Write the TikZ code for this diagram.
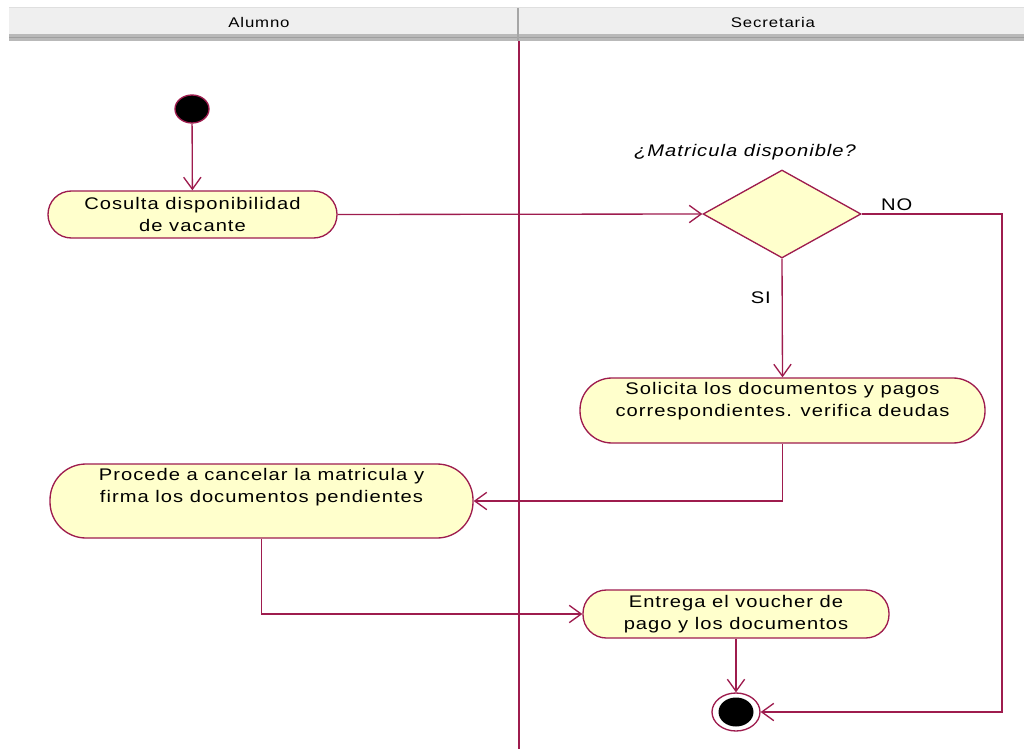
\documentclass[tikz,border=0pt]{standalone}
\usepackage{fontspec}
\usepackage{tikz}
\usetikzlibrary{shapes.geometric,arrows.meta}
\newfontfamily\rosefont{Liberation Sans}[FakeStretch=1.2,LetterSpace=6]
\definecolor{roseline}{RGB}{158,28,78}
\definecolor{rosefill}{RGB}{255,255,204}
\definecolor{lanegray}{RGB}{239,239,239}
\newcommand{\pad}[1]{\rule[-#1]{0pt}{#1}}% extra room under the text

\begin{document}
\begin{tikzpicture}[x=0.75pt,y=-0.75pt,
  act/.style={draw=roseline, fill=rosefill, line width=1pt, inner sep=0pt,
    align=center, rounded corners=#1, font=\rosefont\fontsize{12.6pt}{16.5pt}\selectfont},
  flow/.style={draw=roseline, line width=1pt, -{Straight Barb[length=9pt,width=13pt]}},
  lbl/.style={inner sep=2pt, font=\rosefont\fontsize{12.6pt}{16.5pt}\selectfont},
  lanehead/.style={inner sep=0pt, font=\rosefont\fontsize{10.5pt}{12pt}\selectfont}]
  \useasboundingbox (0,0) rectangle (1024,749);
  % swimlane heads
  \fill[lanegray] (9,8) rectangle (1024,34);
  \draw[gray!25, line width=0.75pt] (9,8) -- (1024,8);
  \fill[gray!55] (9,34) rectangle (1024,41);
  \draw[gray!75, line width=0.75pt] (9,37.5) -- (1024,37.5);
  \draw[gray!70, line width=2pt] (518,8) -- (518,41);
  \node[lanehead] (alumno) at (259,22) {Alumno};
  \node[lanehead] (secre) at (773,22) {Secretaria};
  \draw[roseline, line width=1pt] (519,41) -- (519,749);

  % states and activities
  \node[ellipse, draw=roseline, fill=black, inner sep=0pt, line width=1pt,
    minimum width=34*0.75pt, minimum height=28*0.75pt] (ini) at (192,109) {};
  \node[act=17.5pt, minimum width=289*0.75pt, minimum height=47*0.75pt]
    (act1) at (192.5,214.5) {Cosulta disponibilidad\\de vacante};
  \node[diamond, draw=roseline, fill=rosefill, line width=1pt, inner sep=0pt,
    minimum width=158*0.75pt, minimum height=88*0.75pt] (dec) at (782,214) {};
  \node[lbl, font=\rosefont\itshape\fontsize{12.6pt}{16.5pt}\selectfont]
    (declbl) at (745,152) {¿Matricula disponible?};
  \node[act=24pt, minimum width=405*0.75pt, minimum height=65*0.75pt]
    (act2) at (782.5,410.5) {Solicita los documentos y pagos\\correspondientes. verifica deudas\pad{17pt}};
  \node[act=27pt, minimum width=423*0.75pt, minimum height=74*0.75pt]
    (act3) at (261.5,501) {Procede a cancelar la matricula y\\firma los documentos pendientes\pad{23.5pt}};
  \node[act=17.5pt, minimum width=306*0.75pt, minimum height=48*0.75pt]
    (act4) at (736,614) {Entrega el voucher de\\pago y los documentos};
  \node[ellipse, draw=roseline, fill=white, inner sep=0pt, line width=1pt,
    minimum width=48*0.75pt, minimum height=38*0.75pt] (fin) at (736,712) {};
  \node[ellipse, fill=black, inner sep=0pt,
    minimum width=35*0.75pt, minimum height=29*0.75pt] (findot) at (fin) {};
  \coordinate (nocorner) at (1002,214);

  % transitions
  \draw[flow] (ini) -- (act1);
  \draw[flow] (act1.east) -- (dec.west);
  \draw[flow] (dec.east) -- node[lbl, above, pos=0.25] (nolbl) {NO} (nocorner) |- (fin);
  \draw[flow] (dec.south) -- node[lbl, left, pos=0.33, xshift=-6pt] (silbl) {SI} (act2.north);
  \draw[flow] (act2.south) |- (act3.east);
  \draw[flow] (act3.south) |- (act4.west);
  \draw[flow] (act4.south) -- (fin);
\end{tikzpicture}
\end{document}
